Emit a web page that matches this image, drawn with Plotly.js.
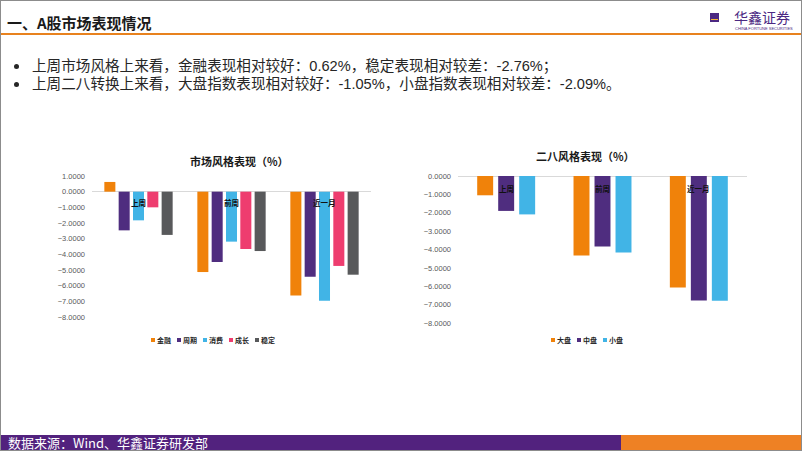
<!DOCTYPE html>
<html><head><meta charset="utf-8">
<script src="https://cdn.plot.ly/plotly-3.0.1.min.js"></script>
<style>
body{margin:0;background:#fff;}
#page{position:relative;width:802px;height:451px;overflow:hidden;background:#fff;font-family:"Noto Sans CJK SC","Noto Sans",sans-serif;}
#frame{position:absolute;left:0;top:0;width:800px;height:449px;border:1px solid #8c8c8c;pointer-events:none;z-index:5;}
#h1{position:absolute;left:7px;top:12px;font-size:15px;font-weight:bold;color:#1a1a1a;line-height:22px;white-space:nowrap;}
#hline{position:absolute;left:0;top:33px;width:802px;height:2px;background:#E8821E;}
#logoSq{position:absolute;left:710px;top:13px;width:9px;height:9px;background:#4B2882;}
#logoSq span{position:absolute;left:1px;top:3px;width:7px;height:3px;border-bottom:1px solid #F5B335;}
#logoTxt{position:absolute;left:734px;top:8px;font-size:14px;color:#4B2882;line-height:18px;white-space:nowrap;}
#logoEn{position:absolute;left:735px;top:26px;font-size:4px;color:#4B2882;line-height:5px;white-space:nowrap;font-family:"Liberation Sans",sans-serif;}
.dot{position:absolute;left:14px;width:5px;height:5px;border-radius:50%;background:#262626;}
.bl{position:absolute;left:32px;font-family:"Liberation Sans","Noto Sans CJK SC",sans-serif;font-size:14.6px;color:#262626;white-space:nowrap;line-height:16px;}
.chart{position:absolute;top:140px;height:190px;}
#c1{left:0;width:400px;}
#c2{left:400px;width:402px;}
.lg{position:absolute;top:334px;height:12px;font-size:7px;font-weight:bold;color:#262626;white-space:nowrap;line-height:12px;}
.lg .it{display:inline-block;margin-right:6px;}
.lg .sq{display:inline-block;width:4px;height:4px;margin-right:2px;vertical-align:1px;}
#foot{position:absolute;left:0;top:435px;width:621px;height:16px;background:#52227E;}
#foot2{position:absolute;left:621px;top:435px;width:181px;height:16px;background:#EE8124;}
#footTxt{position:absolute;left:8px;top:434px;font-size:13px;color:#fff;line-height:17px;white-space:nowrap;}
</style></head><body>
<div id="page">
  <div id="h1">一、A股市场表现情况</div>
  <div id="hline"></div>
  <div id="logoSq"><span></span></div>
  <div id="logoTxt">华鑫证券</div>
  <div id="logoEn">CHINA FORTUNE SECURITIES</div>
  <div class="dot" style="top:64px"></div>
  <div class="bl" style="top:58px">上周市场风格上来看，金融表现相对较好：0.62%，稳定表现相对较差：-2.76%；</div>
  <div class="dot" style="top:82px"></div>
  <div class="bl" style="top:76px">上周二八转换上来看，大盘指数表现相对较好：-1.05%，小盘指数表现相对较差：-2.09%。</div>
  <div id="c1" class="chart"></div>
  <div id="c2" class="chart"></div>
  <div id="lg1" class="lg" style="left:151px"></div>
  <div id="lg2" class="lg" style="left:551px"></div>
  <div id="foot"></div><div id="foot2"></div>
  <div id="footTxt">数据来源：Wind、华鑫证券研发部</div>
  <div id="frame"></div>
</div>
<script>
// ---- data ----
const periods = ['上周', '前周', '近一月'];
const styleNames = ['金融', '周期', '消费', '成长', '稳定'];
const finance  = [0.62, -5.13, -6.62];
const cyclical = [-2.47, -4.49, -5.43];
const consumer = [-1.83, -3.19, -6.96];
const growth   = [-1.00, -3.66, -4.74];
const stable   = [-2.76, -3.79, -5.30];

const sizeNames = ['大盘', '中盘', '小盘'];
const largeCap = [-1.05, -4.33, -6.07];
const midCap   = [-1.90, -3.84, -6.77];
const smallCap = [-2.09, -4.17, -6.79];

const chart1Title = '市场风格表现（%）';
const chart2Title = '二八风格表现（%）';

// ---- styles ----
const styleColors = ['#F0820A', '#4F2D7F', '#41B4E6', '#EE3D6F', '#58595B'];
const sizeColors  = ['#F0820A', '#4F2D7F', '#41B4E6'];
const numFont = 'Liberation Sans, Noto Sans CJK SC, sans-serif';
const cjkFont = 'Noto Sans CJK SC, sans-serif';

function makeTraces(names, series, colors) {
  return series.map((vals, i) => ({
    type: 'bar', x: periods, y: vals, name: names[i],
    marker: {color: colors[i]}, hoverinfo: 'none', showlegend: false
  }));
}
function catLabels(shift) {
  return periods.map(p => ({
    x: p, y: 0, xref: 'x', yref: 'y', text: '<b>' + p + '</b>', showarrow: false,
    yanchor: 'middle', yshift: shift,
    font: {family: cjkFont, size: 7.5, color: '#111111'}
  }));
}
function baseLayout(m, yr, title, titleX, titleShift, bargap, bgg, labShift) {
  return {
    width: m.w, height: 190, margin: {l: m.l, r: m.r, t: m.t, b: m.b, pad: 0},
    paper_bgcolor: 'rgba(0,0,0,0)', plot_bgcolor: 'rgba(0,0,0,0)',
    barmode: 'group', bargap: bargap, bargroupgap: bgg, showlegend: false,
    xaxis: {type: 'category', showticklabels: false, showgrid: false, showline: false, zeroline: false, ticks: ''},
    yaxis: {range: yr, dtick: 1, tickformat: '.4f', showgrid: false, showline: false,
      zeroline: true, zerolinecolor: '#D9D9D9', zerolinewidth: 1, ticks: '',
      ticklabelstandoff: 6, tickfont: {family: numFont, size: 7.5, color: '#595959'}},
    annotations: [{
      xref: 'paper', yref: 'paper', x: titleX, y: 1, yanchor: 'middle', yshift: titleShift,
      text: '<b>' + title + '</b>', showarrow: false,
      font: {family: cjkFont, size: 11, color: '#1a1a1a'}
    }].concat(catLabels(labShift))
  };
}
const cfg = {staticPlot: true, displayModeBar: false};

Plotly.newPlot('c1',
  makeTraces(styleNames, [finance, cyclical, consumer, growth, stable], styleColors),
  baseLayout({w: 400, l: 92, r: 29, t: 36, b: 13}, [-8, 1], chart1Title, 0.527, 15, 0.23, 0.23, -11),
  cfg);
Plotly.newPlot('c2',
  makeTraces(sizeNames, [largeCap, midCap, smallCap], sizeColors),
  baseLayout({w: 402, l: 58, r: 55, t: 36, b: 7}, [-8, 0], chart2Title, 0.44, 20, 0.346, 0.24, -12),
  cfg);

function legend(id, names, colors) {
  const el = document.getElementById(id);
  names.forEach((n, i) => {
    const it = document.createElement('span'); it.className = 'it';
    const sq = document.createElement('span'); sq.className = 'sq'; sq.style.background = colors[i];
    it.appendChild(sq); it.appendChild(document.createTextNode(n));
    el.appendChild(it);
  });
}
legend('lg1', styleNames, styleColors);
legend('lg2', sizeNames, sizeColors);
</script>
</body></html>
